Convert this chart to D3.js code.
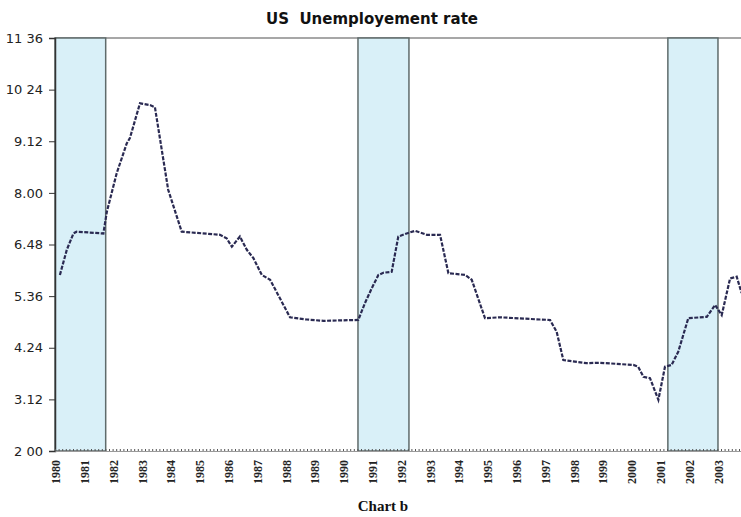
<!doctype html>
<html lang="en">
  <head>
    <meta charset="UTF-8" />
    <title>US Unemployement rate</title>
    <script src="https://d3js.org/d3.v7.min.js"></script>
    <style>
      body {
        margin: 0;
        background: #fff;
      }

      .title {
        font-family: 'DejaVu Sans', sans-serif;
        font-size: 15px;
        font-weight: bold;
        fill: #111;
      }

      .y-axis text {
        font-family: 'DejaVu Sans', sans-serif;
        font-size: 13px;
        fill: #222;
      }

      .year-label {
        font-family: 'Liberation Serif', serif;
        font-size: 12px;
        font-weight: bold;
        fill: #222;
      }

      .caption {
        font-family: 'Liberation Serif', serif;
        font-size: 15px;
        font-weight: bold;
        fill: #111;
      }

      .band {
        fill: #d9f0f8;
        stroke: #5f6b6b;
        stroke-width: 1.5;
      }

      .rate-line {
        fill: none;
        stroke: #2a2a52;
        stroke-width: 2.2;
        stroke-dasharray: 4, 1.5;
      }
    </style>
  </head>
  <body>
    <svg id="chart"></svg>

    <script>
      // Unemployment series (decimal year, value on the chart's scale)
      const dates = [
        1980.17, 1980.41, 1980.64, 1980.75, 1981.68, 1981.8, 1982.14, 1982.49, 1982.6, 1982.95,
        1983.3, 1983.47, 1983.93, 1984.4, 1985.73, 1985.96, 1986.14, 1986.42, 1986.66, 1986.89,
        1987.18, 1987.47, 1988.16, 1988.74, 1989.32, 1990.53, 1990.76, 1991.0, 1991.23, 1991.4,
        1991.69, 1991.92, 1992.21, 1992.5, 1992.91, 1993.37, 1993.66, 1994.24, 1994.47, 1994.93,
        1995.45, 1996.84, 1997.19, 1997.42, 1997.65, 1998.46, 1998.92, 2000.08, 2000.25, 2000.43,
        2000.66, 2000.95, 2001.18, 2001.41, 2001.64, 2001.99, 2002.63, 2002.92, 2003.15, 2003.44,
        2003.67, 2003.84,
      ]
      const rates = [
        5.99, 6.56, 6.93, 6.97, 6.93, 7.42, 8.29, 8.97, 9.09, 9.88,
        9.84, 9.79, 7.92, 6.97, 6.9, 6.82, 6.63, 6.86, 6.56, 6.37,
        5.99, 5.88, 5.03, 4.98, 4.95, 4.97, 5.35, 5.69, 5.99, 6.04,
        6.06, 6.86, 6.93, 6.99, 6.9, 6.9, 6.03, 5.99, 5.88, 5.01,
        5.03, 4.98, 4.97, 4.7, 4.06, 3.99, 4.0, 3.95, 3.91, 3.68,
        3.65, 3.16, 3.91, 3.95, 4.25, 5.01, 5.04, 5.31, 5.08, 5.91,
        5.95, 5.58,
      ]

      // Shaded periods
      const bandStart = [1980.0, 1990.52, 2001.28]
      const bandEnd = [1981.76, 1992.29, 2003.02]

      // Axis ticks and their printed labels
      const years = d3.range(1980, 2004)
      const yTickValues = [2.0, 3.17, 4.34, 5.51, 6.68, 7.85, 9.02, 10.19, 11.36]
      const yTickLabels = ['2 00', '3.12', '4.24', '5.36', '6.48', '8.00', '9.12', '10 24', '11 36']

      const W = 741
      const H = 517
      const plotLeft = 55
      const plotTop = 38
      const plotBottom = 451

      const svg = d3.select('#chart').attr('width', W).attr('height', H)

      const x = d3.scaleLinear().domain([1980, 2004]).range([plotLeft, plotLeft + 24 * 28.8])
      const y = d3.scaleLinear().domain([2, 11.36]).range([plotBottom, plotTop])

      // Title
      svg
        .append('text')
        .attr('class', 'title')
        .attr('x', 372)
        .attr('y', 24)
        .attr('text-anchor', 'middle')
        .style('white-space', 'pre')
        .text('US  Unemployement rate')

      // Top border
      svg
        .append('line')
        .attr('x1', plotLeft)
        .attr('x2', W)
        .attr('y1', y(11.36))
        .attr('y2', y(11.36))
        .attr('stroke', '#8a8a8a')
        .attr('stroke-width', 1.5)

      // Shaded bands
      svg
        .selectAll('.band')
        .data(bandStart)
        .enter()
        .append('rect')
        .attr('class', 'band')
        .attr('x', (d) => x(d))
        .attr('y', y(11.36))
        .attr('width', (d, i) => x(bandEnd[i]) - x(d))
        .attr('height', y(2) - y(11.36))

      // Line
      const line = d3
        .line()
        .x((d) => x(d[0]))
        .y((d) => y(d[1]))

      svg
        .append('path')
        .datum(dates.map((d, i) => [d, rates[i]]))
        .attr('class', 'rate-line')
        .attr('d', line)

      // Y axis
      const yAxis = svg
        .append('g')
        .attr('class', 'y-axis')
        .attr('transform', `translate(${plotLeft},0)`)
        .call(
          d3
            .axisLeft(y)
            .tickValues(yTickValues)
            .tickFormat((d, i) => yTickLabels[i])
            .tickSize(6)
            .tickPadding(6)
        )
      yAxis.select('.domain').attr('stroke', '#333').attr('stroke-width', 1.5)
      yAxis.selectAll('.tick line').attr('stroke', '#333')

      // X axis: dotted base line with small marks
      const xAxis = svg
        .append('g')
        .attr('transform', `translate(0,${plotBottom})`)
        .call(
          d3
            .axisBottom(x)
            .tickValues(d3.range(1980, 2004, 1 / 8))
            .tickFormat('')
            .tickSizeInner(-2)
            .tickSizeOuter(0)
        )
      xAxis.select('.domain').attr('stroke', '#9a9a9a').attr('stroke-width', 1)
      xAxis.selectAll('.tick line').attr('stroke', '#555').attr('stroke-width', 1)

      // Year labels (rotated)
      svg
        .selectAll('.year-label')
        .data(years)
        .enter()
        .append('text')
        .attr('class', 'year-label')
        .attr('text-anchor', 'end')
        .attr('dy', '0.35em')
        .attr('transform', (d) => `translate(${x(d) + 1},${plotBottom + 9}) rotate(-90)`)
        .text((d) => d)

      // Caption
      svg
        .append('text')
        .attr('class', 'caption')
        .attr('x', 383)
        .attr('y', 511)
        .attr('text-anchor', 'middle')
        .text('Chart b')
    </script>
  </body>
</html>
